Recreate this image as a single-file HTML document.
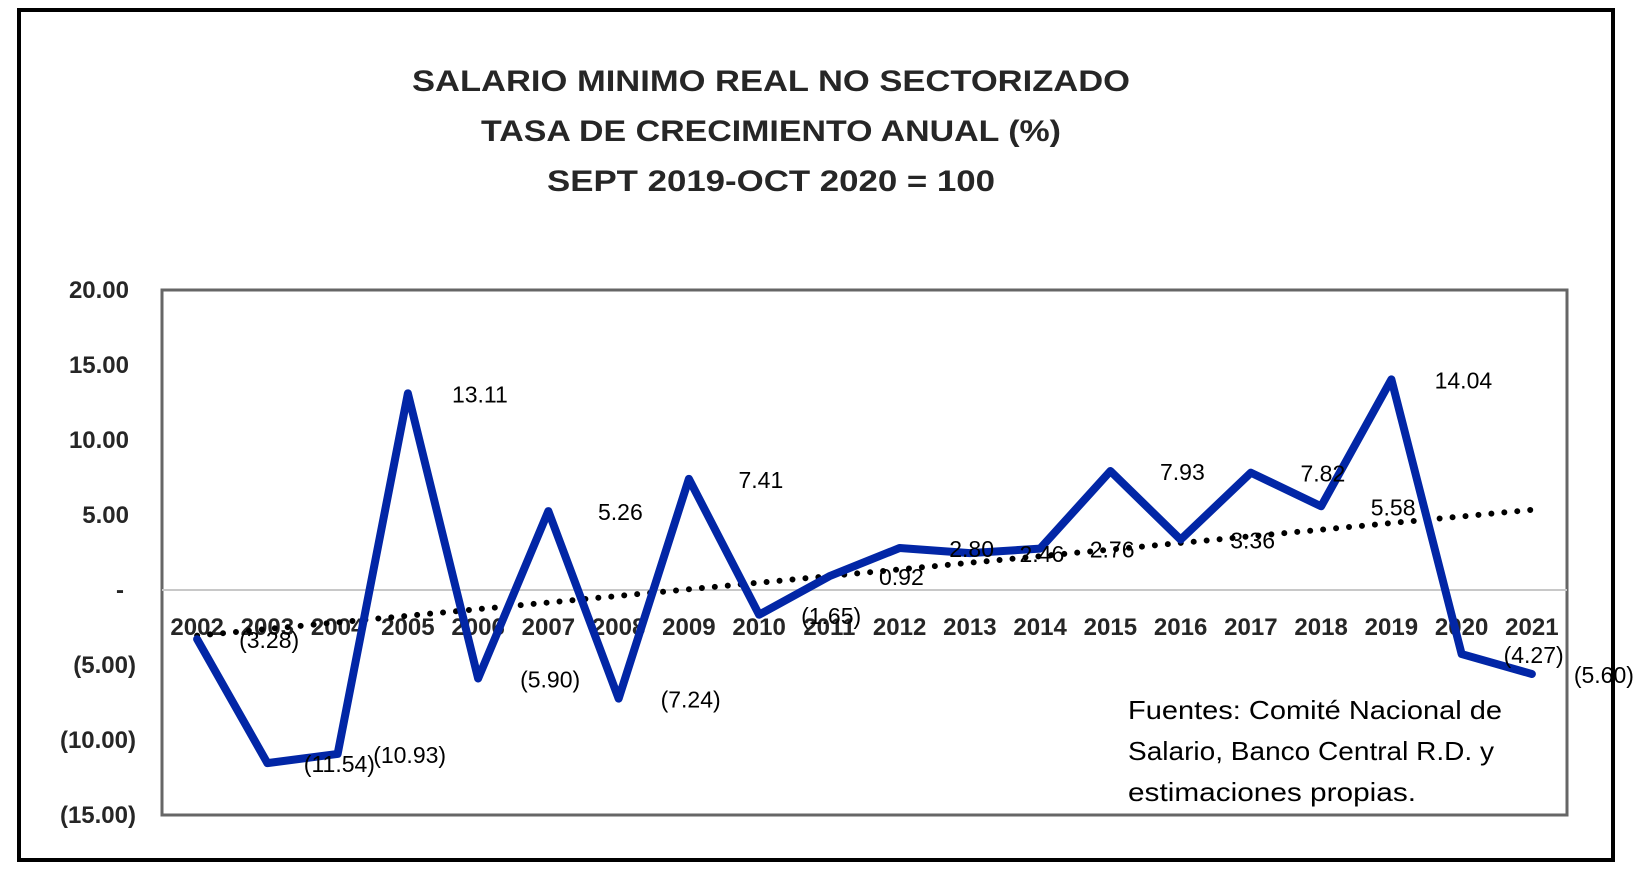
<!DOCTYPE html>
<html><head><meta charset="utf-8"><style>
html,body{margin:0;padding:0;background:#fff;}
svg{display:block;font-family:"Liberation Sans",sans-serif;}
</style></head><body>
<svg id="chart" width="1633" height="872" viewBox="0 0 1633 872" xmlns="http://www.w3.org/2000/svg">
<rect x="19" y="10" width="1594" height="850" fill="#fff" stroke="#000" stroke-width="4"/>
<g font-weight="bold" font-size="30" fill="#262626" text-anchor="middle">
<text x="771" y="91" textLength="718" lengthAdjust="spacingAndGlyphs">SALARIO MINIMO  REAL NO SECTORIZADO</text>
<text x="771" y="141" textLength="580" lengthAdjust="spacingAndGlyphs">TASA DE CRECIMIENTO ANUAL (%)</text>
<text x="771" y="191" textLength="448" lengthAdjust="spacingAndGlyphs">SEPT 2019-OCT 2020 = 100</text>
</g>
<rect x="162" y="290" width="1405" height="525" fill="none" stroke="#666" stroke-width="3"/>
<g id="yaxis"></g>
<line id="zero" stroke="#c8c8c8" stroke-width="2"/>
<g id="xaxis"></g>
<g id="trend"></g>
<g id="series"></g>
<g id="labels"></g>
<g font-size="26" fill="#000">
<text x="1128" y="719" textLength="374" lengthAdjust="spacingAndGlyphs">Fuentes: Comité Nacional de</text>
<text x="1128" y="760" textLength="366" lengthAdjust="spacingAndGlyphs">Salario, Banco Central R.D. y</text>
<text x="1128" y="801" textLength="288" lengthAdjust="spacingAndGlyphs">estimaciones propias.</text>
</g>
</svg>
<script>
const categories = ["2002","2003","2004","2005","2006","2007","2008","2009","2010","2011","2012","2013","2014","2015","2016","2017","2018","2019","2020","2021"];
const values = [-3.28,-11.54,-10.93,13.11,-5.90,5.26,-7.24,7.41,-1.65,0.92,2.80,2.46,2.76,7.93,3.36,7.82,5.58,14.04,-4.27,-5.60];
const yTicks = [20,15,10,5,0,-5,-10,-15];
const yTickLabels = ["20.00","15.00","10.00","5.00","-","(5.00)","(10.00)","(15.00)"];
const valueLabels = ["(3.28)","(11.54)","(10.93)","13.11","(5.90)","5.26","(7.24)","7.41","(1.65)","0.92","2.80","2.46","2.76","7.93","3.36","7.82","5.58","14.04","(4.27)","(5.60)"];

const NS="http://www.w3.org/2000/svg";
const L=162,R=1567,T=290,B=815,YMIN=-15,YMAX=20;
const band=(R-L)/categories.length;
const xs=i=>L+band*(i+0.5);
const ys=v=>B-(v-YMIN)/(YMAX-YMIN)*(B-T);
function mk(tag,attrs,parent){const e=document.createElementNS(NS,tag);for(const k in attrs)e.setAttribute(k,attrs[k]);parent.appendChild(e);return e;}

const yaxis=document.getElementById('yaxis');
yTicks.forEach((t,i)=>{
  const neg=t<0, zero=t===0;
  const el=mk('text',{x:neg?136:(zero?124:129),y:ys(t)+8,'text-anchor':'end','font-size':24,'font-weight':'bold',fill:'#262626'},yaxis);
  
  
  el.textContent=yTickLabels[i];
});
const z=document.getElementById('zero');
z.setAttribute('x1',L);z.setAttribute('x2',R);z.setAttribute('y1',ys(0));z.setAttribute('y2',ys(0));

const xaxis=document.getElementById('xaxis');
categories.forEach((c,i)=>{
  const el=mk('text',{x:xs(i),y:ys(0)+45,'text-anchor':'middle','font-size':24,'font-weight':'bold',fill:'#262626'},xaxis);
  
  
  el.textContent=c;
});

// trend (linear regression)
const n=values.length;let sx=0,sy=0,sxy=0,sxx=0;
values.forEach((v,i)=>{sx+=i;sy+=v;sxy+=i*v;sxx+=i*i;});
const slope=(n*sxy-sx*sy)/(n*sxx-sx*sx), icpt=(sy-slope*sx)/n;
const tl=mk('line',{x1:xs(0),y1:ys(icpt),x2:xs(n-1),y2:ys(icpt+slope*(n-1)),stroke:'#000','stroke-width':6,'stroke-linecap':'round','stroke-dasharray':'0 13'},document.getElementById('trend'));



const pts=values.map((v,i)=>xs(i)+','+ys(v)).join(' ');
const pl=mk('polyline',{points:pts,fill:'none',stroke:'#0226a6','stroke-width':8,'stroke-linejoin':'round','stroke-linecap':'round'},document.getElementById('series'));



const lg=document.getElementById('labels');
values.forEach((v,i)=>{
  const el=mk('text',{x:xs(i)+72,y:ys(v)+9,'text-anchor':'middle','font-size':23,fill:'#000'},lg);
  
  
  el.textContent=valueLabels[i];
});
</script>
</body></html>
